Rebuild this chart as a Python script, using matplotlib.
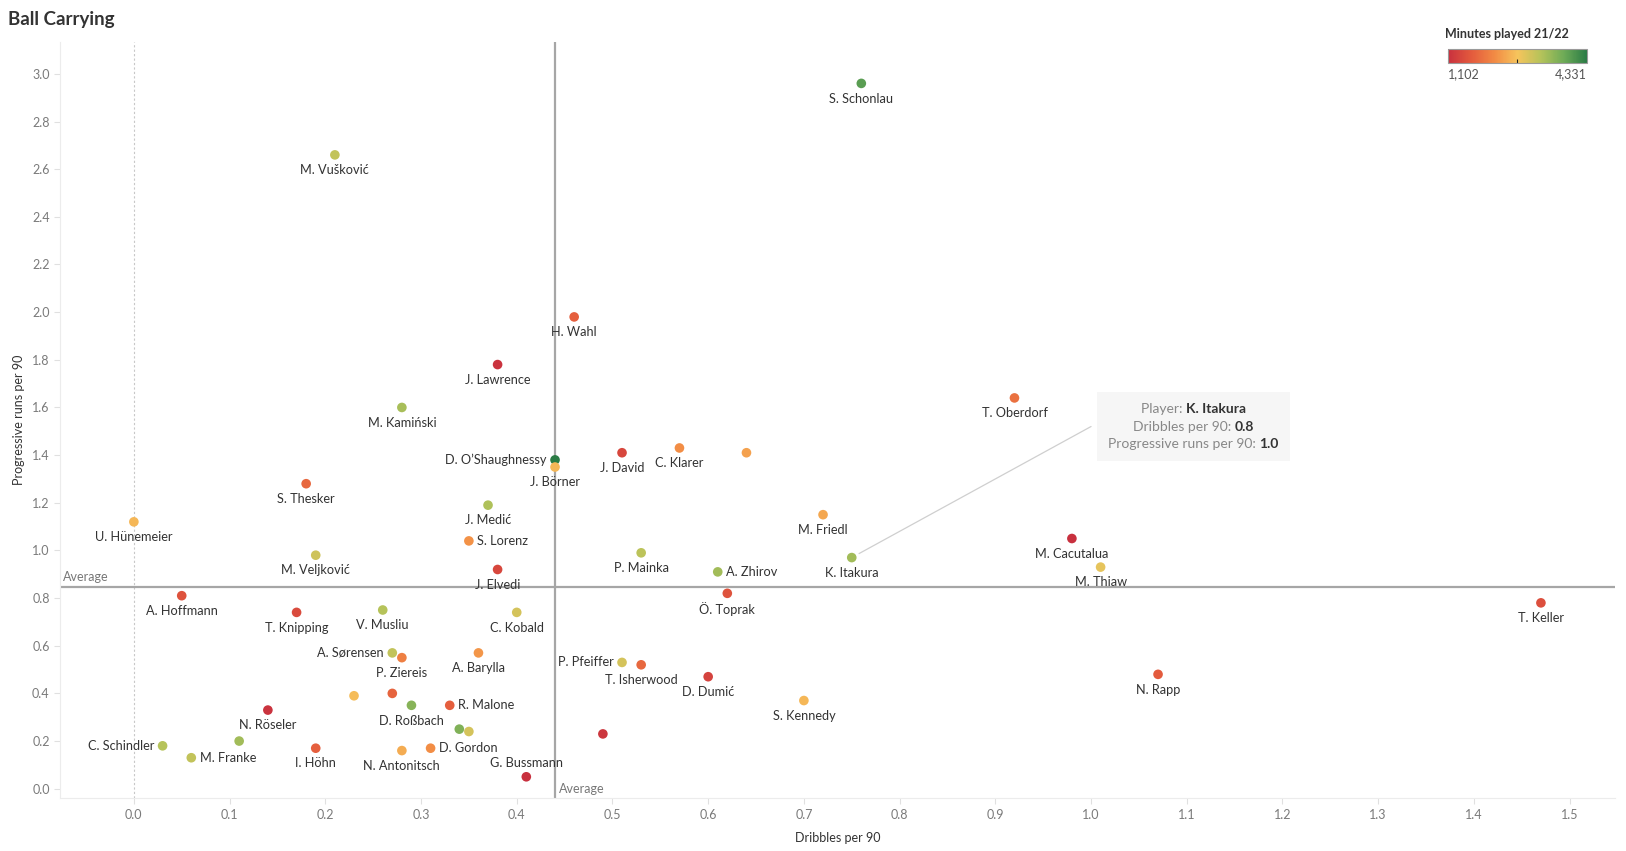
import numpy as np
import matplotlib
matplotlib.use("Agg")
import matplotlib.pyplot as plt
from matplotlib.colors import LinearSegmentedColormap, Normalize
from matplotlib.cm import ScalarMappable
from matplotlib.offsetbox import TextArea, HPacker, VPacker, AnnotationBbox

plt.rcParams["font.family"] = ["Lato", "DejaVu Sans"]

# ── data ─────────────────────────────────────────────────────────────────────
players = [
    "S. Schonlau", "M. Vušković", "H. Wahl", "J. Lawrence", "T. Oberdorf",
    "M. Kamiński", "D. O’Shaughnessy", "J. Börner", "J. David", "C. Klarer",
    "", "S. Thesker", "U. Hünemeier", "J. Medić", "M. Friedl",
    "S. Lorenz", "M. Veljković", "P. Mainka", "K. Itakura", "A. Zhirov",
    "J. Elvedi", "M. Cacutalua", "M. Thiaw", "A. Hoffmann", "T. Knipping",
    "V. Musliu", "C. Kobald", "Ö. Toprak", "T. Keller", "A. Sørensen",
    "P. Ziereis", "A. Barylla", "P. Pfeiffer", "T. Isherwood", "D. Dumić",
    "N. Rapp", "S. Kennedy", "", "", "D. Roßbach",
    "R. Malone", "N. Röseler", "", "", "C. Schindler",
    "M. Franke", "", "I. Höhn", "N. Antonitsch", "D. Gordon",
    "", "G. Bussmann",
]
dribbles = [
    0.76, 0.21, 0.46, 0.38, 0.92,
    0.28, 0.44, 0.44, 0.51, 0.57,
    0.64, 0.18, 0.00, 0.37, 0.72,
    0.35, 0.19, 0.53, 0.75, 0.61,
    0.38, 0.98, 1.01, 0.05, 0.17,
    0.26, 0.40, 0.62, 1.47, 0.27,
    0.28, 0.36, 0.51, 0.53, 0.60,
    1.07, 0.70, 0.23, 0.27, 0.29,
    0.33, 0.14, 0.34, 0.35, 0.03,
    0.06, 0.11, 0.19, 0.28, 0.31,
    0.49, 0.41,
]
prog_runs = [
    2.96, 2.66, 1.98, 1.78, 1.64,
    1.60, 1.38, 1.35, 1.41, 1.43,
    1.41, 1.28, 1.12, 1.19, 1.15,
    1.04, 0.98, 0.99, 0.97, 0.91,
    0.92, 1.05, 0.93, 0.81, 0.74,
    0.75, 0.74, 0.82, 0.78, 0.57,
    0.55, 0.57, 0.53, 0.52, 0.47,
    0.48, 0.37, 0.39, 0.40, 0.35,
    0.35, 0.33, 0.25, 0.24, 0.18,
    0.13, 0.20, 0.17, 0.16, 0.17,
    0.23, 0.05,
]
minutes = [
    3950, 3150, 1700, 1150, 1900,
    3350, 4331, 2600, 1400, 2200,
    2400, 1800, 2600, 3300, 2450,
    2250, 3050, 3200, 3400, 3400,
    1400, 1102, 2850, 1550, 1450,
    3250, 3000, 1550, 1500, 3150,
    2050, 2300, 3000, 1800, 1350,
    1650, 2600, 2650, 1750, 3600,
    1700, 1150, 3650, 3000, 3250,
    3150, 3400, 1700, 2500, 2200,
    1200, 1102,
]
# label side: b=below, a=above, l=left, r=right
label_pos = [
    "b", "b", "b", "b", "b",
    "b", "l", "b", "b", "b",
    "b", "b", "b", "b", "b",
    "r", "b", "b", "b", "r",
    "b", "b", "b", "b", "b",
    "b", "b", "b", "b", "l",
    "b", "b", "l", "b", "b",
    "b", "b", "b", "b", "b",
    "r", "b", "b", "b", "l",
    "r", "b", "b", "b", "r",
    "b", "a",
]
avg_dribbles = 0.44
avg_prog = 0.845
min_minutes, max_minutes = 1102, 4331

x_ticks = np.round(np.arange(0.0, 1.51, 0.1), 1)
y_ticks = np.round(np.arange(0.0, 3.01, 0.2), 1)

cmap = LinearSegmentedColormap.from_list(
    "rg", ["#c8303e", "#e35a3d", "#f28a44", "#f6c45c", "#b6c35a", "#6eab57", "#2a7b45"])
norm = Normalize(min_minutes, max_minutes)

fig = plt.figure(figsize=(16.26, 8.51), dpi=100)
ax = fig.add_axes([0.037, 0.062, 0.956, 0.889])

ax.scatter(dribbles, prog_runs, c=minutes, cmap=cmap, norm=norm, s=48,
           linewidths=0, zorder=3)

offs = {"b": ((0, -11), "center", "center"), "a": ((0, 10), "center", "center"),
        "l": ((-6, 0), "right", "center"), "r": ((6, 0), "left", "center")}
for name, x, y, p in zip(players, dribbles, prog_runs, label_pos):
    if not name:
        continue
    (dx, dy), ha, va = offs[p]
    ax.annotate(name, (x, y), xytext=(dx, dy), textcoords="offset points",
                ha=ha, va=va, fontsize=9.2, color="#333333", zorder=4)

# reference lines
ax.axvline(avg_dribbles, color="#a6a6a6", lw=1.6, zorder=2)
ax.axhline(avg_prog, color="#a6a6a6", lw=1.6, zorder=2)
ax.axvline(0, color="#c8c8c8", lw=0.8, ls=(0, (2, 2)), zorder=1)
ax.set_xlim(-0.077, 1.547)
ax.set_ylim(-0.04, 3.135)
ax.text(-0.074, avg_prog + 0.02, "Average", fontsize=9, color="#777777",
        ha="left", va="bottom")
ax.text(avg_dribbles + 0.004, -0.025, "Average", fontsize=9, color="#777777",
        ha="left", va="bottom")

ax.set_xticks(x_ticks)
ax.set_xticklabels([f"{v:.1f}" for v in x_ticks])
ax.set_yticks(y_ticks)
ax.set_yticklabels([f"{v:.1f}" for v in y_ticks])
ax.tick_params(colors="#e0e0e0", labelcolor="#7a7a7a", labelsize=9, length=4, width=0.8)
for s in ["top", "right"]:
    ax.spines[s].set_visible(False)
for s in ["left", "bottom"]:
    ax.spines[s].set_color("#ececec")
ax.set_xlabel("Dribbles per 90", fontsize=9, color="#333333", labelpad=8)
ax.set_ylabel("Progressive runs per 90", fontsize=9, color="#333333", labelpad=5)

# tooltip
ik = players.index("K. Itakura")
ix, iy = dribbles[ik], prog_runs[ik]
def line(lbl, val):
    return HPacker(children=[
        TextArea(lbl, textprops=dict(color="#888888", fontsize=10)),
        TextArea(val, textprops=dict(color="#333333", fontsize=10, fontweight="bold"))],
        align="baseline", pad=0, sep=0)
box = VPacker(children=[line("Player: ", "K. Itakura"),
                        line("Dribbles per 90: ", f"{ix:.1f}"),
                        line("Progressive runs per 90: ", f"{iy:.1f}")],
              align="center", pad=0, sep=4)
ab = AnnotationBbox(box, (1.107, 1.52), xycoords="data", frameon=True,
                    pad=0.8, bboxprops=dict(facecolor="#f6f6f6", edgecolor="none"),
                    zorder=5)
ax.add_artist(ab)
ax.annotate("", xy=(ix, iy), xytext=(1.0, 1.52),
            arrowprops=dict(arrowstyle="-", color="#cfcfcf", lw=0.9, shrinkA=0, shrinkB=6),
            zorder=4)

# title
fig.text(0.005, 0.977, "Ball Carrying", fontsize=13.5, fontweight="bold",
         color="#333333", ha="left", va="center")

# colour legend
cax = fig.add_axes([0.8905, 0.926, 0.0855, 0.017])
cb = fig.colorbar(ScalarMappable(norm=norm, cmap=cmap), cax=cax, orientation="horizontal")
cb.set_ticks([(min_minutes + max_minutes) / 2])
cb.set_ticklabels([""])
cax.tick_params(length=3, width=0.8, color="#222222", direction="in")
cb.outline.set_edgecolor("#9a9a9a")
fig.text(0.8885, 0.960, "Minutes played 21/22", fontsize=9, fontweight="bold",
         color="#333333", ha="left", va="center")
fig.text(0.8905, 0.913, f"{min_minutes:,}", fontsize=9, color="#555555",
         ha="left", va="center")
fig.text(0.976, 0.913, f"{max_minutes:,}", fontsize=9, color="#555555",
         ha="right", va="center")

fig.savefig("out.png", dpi=100)
